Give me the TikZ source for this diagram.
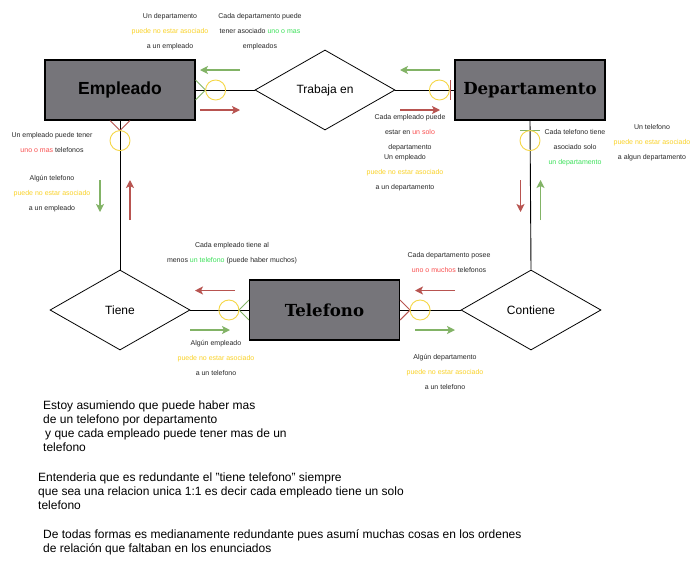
\documentclass[tikz,border=0pt]{standalone}
\usepackage{fontspec}
\setmainfont{Liberation Sans}
\newfontfamily\serifbold{DejaVu Serif}
\usetikzlibrary{arrows.meta,shapes.geometric}
\definecolor{entfill}{RGB}{118,117,122}
\definecolor{agreen}{RGB}{130,179,102}
\definecolor{ared}{RGB}{184,84,80}
\definecolor{ycirc}{RGB}{245,215,70}
\definecolor{ytext}{RGB}{250,210,40}
\definecolor{gtext}{RGB}{60,225,90}
\definecolor{rtext}{RGB}{250,80,80}
\definecolor{txt}{RGB}{40,40,40}
\tikzset{
  entity/.style={draw=black, line width=1.2pt, fill=entfill, minimum width=150pt, minimum height=60pt, inner sep=0pt},
  rel/.style={diamond, draw=black, line width=0.8pt, aspect=1.75, minimum width=140pt, minimum height=80pt, inner sep=0pt, font=\fontsize{12}{14}\selectfont},
  conn/.style={draw=black, line width=0.9pt},
  ycircle/.style={circle, draw=ycirc, line width=0.9pt, minimum size=20pt, inner sep=0pt},
  gmark/.style={draw=agreen, line width=0.9pt},
  rmark/.style={draw=ared, line width=0.9pt},
  garrow/.style={draw=agreen, line width=1.2pt, -{Stealth[length=8pt,width=8pt,inset=2pt]}},
  rarrow/.style={draw=ared, line width=1.2pt, -{Stealth[length=8pt,width=8pt,inset=2pt]}},
  lbl/.style={align=center, inner sep=0pt, text=txt, font=\fontsize{7}{15}\selectfont},
  note/.style={align=left, inner sep=0pt, anchor=north west, text=black, font=\fontsize{12}{14}\selectfont}
}
\begin{document}
\begin{tikzpicture}[x=1pt,y=-1pt]
\useasboundingbox[fill=white] (0,0) rectangle (700,560);
% entities
\node[entity, font=\fontsize{17.5}{20}\bfseries\selectfont] (emp) at (120,90) {Empleado};
\node[entity, font=\serifbold\fontsize{16.6}{20}\bfseries\selectfont] (dep) at (530,90) {Departamento};
\node[entity, font=\serifbold\fontsize{16.6}{20}\bfseries\selectfont] (tel) at (324.5,310) {Telefono};
% relationships
\node[rel] (trab) at (325,90) {Trabaja en};
\node[rel] (tiene) at (120,310) {Tiene};
\node[rel] (cont) at (531,310) {Contiene};
% connectors
\draw[conn] (emp.east) -- (trab.west);
\draw[conn] (trab.east) -- (dep.west);
\draw[conn] (emp.south) -- (tiene.north);
\draw[conn] (dep.south) -- (cont.north);
\draw[conn] (tiene.east) -- (tel.west);
\draw[conn] (tel.east) -- (cont.west);
% cardinality marks
\draw[gmark] ([yshift=10pt]emp.east) -- ([xshift=10pt]emp.east) -- ([yshift=-10pt]emp.east);
\node[ycircle] (c1) at ([xshift=20pt]emp.east) {};
\draw[rmark] ([xshift=-4pt,yshift=10pt]dep.west) -- ([xshift=-4pt,yshift=-10pt]dep.west);
\node[ycircle] (c2) at ([xshift=-15pt]dep.west) {};
\draw[rmark] ([xshift=-10pt]emp.south) -- ([yshift=-10pt]emp.south) -- ([xshift=10pt]emp.south);
\node[ycircle] (c3) at ([yshift=-20pt]emp.south) {};
\draw[gmark] ([xshift=-10pt,yshift=-10pt]dep.south) -- ([xshift=10pt,yshift=-10pt]dep.south);
\node[ycircle] (c4) at ([yshift=-20pt]dep.south) {};
\draw[gmark] ([yshift=10pt]tel.west) -- ([xshift=-10pt]tel.west) -- ([yshift=-10pt]tel.west);
\node[ycircle] (c5) at ([xshift=-20pt]tel.west) {};
\draw[rmark] ([yshift=10pt]tel.east) -- ([xshift=10pt]tel.east) -- ([yshift=-10pt]tel.east);
\node[ycircle] (c6) at ([xshift=20pt]tel.east) {};
% direction arrows
\draw[garrow] (240,70) -- (200,70);
\draw[rarrow] (200,110) -- (240,110);
\draw[garrow] (440,70) -- (400,70);
\draw[rarrow] (400,110) -- (440,110);
\draw[garrow] (100,180) -- (100,212);
\draw[rarrow] (130,220) -- (130,180);
\draw[rarrow] (520.5,180) -- (520.5,212);
\draw[garrow] (540.5,220) -- (540.5,180);
\draw[rarrow] (235,290.5) -- (195,290.5);
\draw[garrow] (190,330) -- (230,330);
\draw[rarrow] (455,290.5) -- (415,290.5);
\draw[garrow] (415,330) -- (455,330);
% labels
\node[lbl] (l1) at (170,32) {Un departamento\\\textcolor{ytext}{puede no estar asociado}\\a un empleado};
\node[lbl] (l2) at (260,32) {Cada departamento puede\\tener asociado \textcolor{gtext}{uno o mas}\\empleados};
\node[lbl] (l3) at (52,142.5) {Un empleado puede tener\\\textcolor{rtext}{uno o mas} telefonos};
\node[lbl] (l4) at (52,193.5) {Algún telefono\\\textcolor{ytext}{puede no estar asociado}\\a un empleado};
\node[lbl] (l5) at (410,132.5) {Cada empleado puede\\estar en \textcolor{rtext}{un solo}\\departamento};
\node[lbl] (l6) at (405,172.5) {Un empleado\\\textcolor{ytext}{puede no estar asociado}\\a un departamento};
\node[lbl] (l7) at (575,147.5) {Cada telefono tiene\\asociado solo\\\textcolor{gtext}{un departamento}};
\node[lbl] (l8) at (652,142.5) {Un telefono\\\textcolor{ytext}{puede no estar asociado}\\a algun departamento};
\node[lbl] (l9) at (232,253) {Cada empleado tiene al\\menos \textcolor{gtext}{un telefono} (puede haber muchos)};
\node[lbl] (l10) at (449,262.5) {Cada departamento posee\\\textcolor{rtext}{uno o muchos} telefonos};
\node[lbl] (l11) at (216,357.5) {Algún empleado\\\textcolor{ytext}{puede no estar asociado}\\a un telefono};
\node[lbl] (l12) at (445,371.5) {Algún departamento\\\textcolor{ytext}{puede no estar asociado}\\a un telefono};
% notes
\node[note] (n1) at (43,401) {Estoy asumiendo que puede haber mas\\de un telefono por departamento\\\hspace*{2pt}y que cada empleado puede tener mas de un\\telefono};
\node[note] (n2) at (38,473) {Entenderia que es redundante el "tiene telefono" siempre\\que sea una relacion unica 1:1 es decir cada empleado tiene un solo\\telefono};
\node[note] (n3) at (43,529) {De todas formas es medianamente redundante pues asumí muchas cosas en los ordenes\\de relación que faltaban en los enunciados};
\end{tikzpicture}
\end{document}
